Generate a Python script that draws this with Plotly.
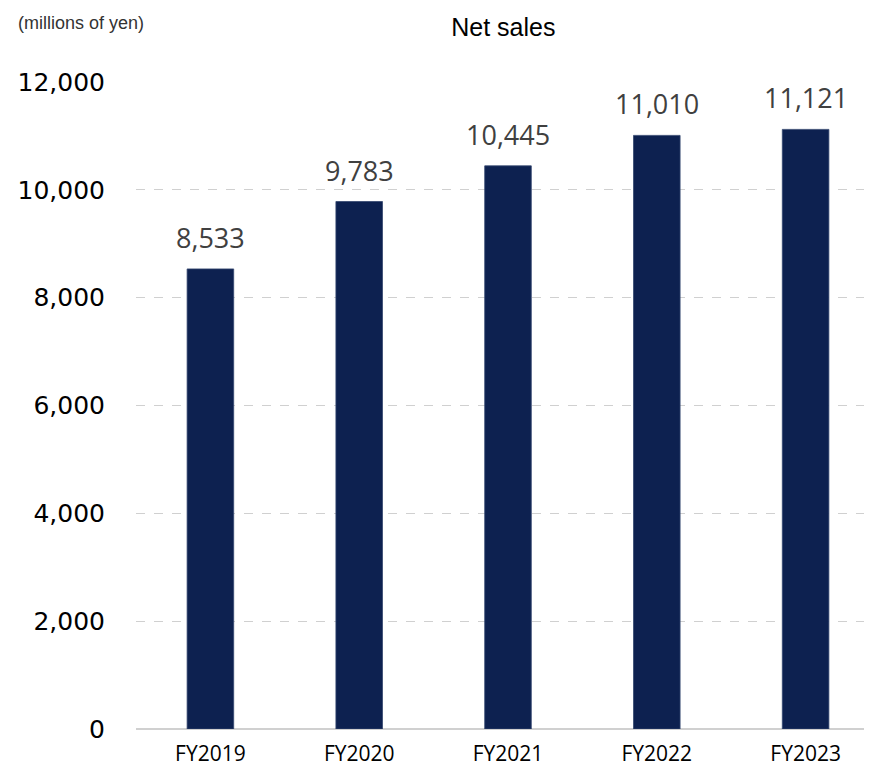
import plotly.graph_objects as go

categories = ["FY2019", "FY2020", "FY2021", "FY2022", "FY2023"]
net_sales = [8533, 9783, 10445, 11010, 11121]
y_ticks = [0, 2000, 4000, 6000, 8000, 10000, 12000]
y_tick_labels = ["0", "2,000", "4,000", "6,000", "8,000", "10,000", "12,000"]

fig = go.Figure()
fig.add_trace(go.Bar(
    x=categories, y=net_sales,
    marker=dict(color="#0d2150", line=dict(color="#34466e", width=0.8)),
    hoverinfo="skip",
))

for c, v in zip(categories, net_sales):
    fig.add_annotation(
        x=c, y=v, text=f"{v:,}", showarrow=False,
        yanchor="bottom", yshift=11,
        font=dict(family="Open Sans", size=27, color="#404040"),
    )

fig.add_annotation(
    xref="paper", yref="paper", x=-0.161, y=1.091, xanchor="left", yanchor="middle",
    text="(millions of yen)", showarrow=False,
    font=dict(family="Liberation Sans", size=18, color="#333333"),
)

fig.update_layout(
    width=872, height=767,
    margin=dict(l=128, r=0, t=74, b=46),
    paper_bgcolor="white", plot_bgcolor="white",
    bargap=0.687,
    showlegend=False,
    title=dict(text="Net sales", x=0.568, xanchor="center", yref="container", y=1 - 19 / 767, yanchor="middle",
               font=dict(family="Liberation Sans", size=25, color="#000000")),
    xaxis=dict(
        range=[-0.5, 4.5], showgrid=False, showline=False, ticks="",
        ticklabelstandoff=10,
        tickfont=dict(family="Open Sans", size=21, color="#000000"),
    ),
    yaxis=dict(
        range=[0, 12000], tickvals=y_ticks, ticktext=y_tick_labels,
        showgrid=True, gridcolor="#d0d0d0", griddash="dash", gridwidth=1,
        zeroline=True, zerolinecolor="#d0d0d0", zerolinewidth=1.5,
        showline=False, ticks="", ticklabelstandoff=30,
        tickfont=dict(family="DejaVu Sans", size=25, color="#000000"),
    ),
)

fig.write_html("out.html")
